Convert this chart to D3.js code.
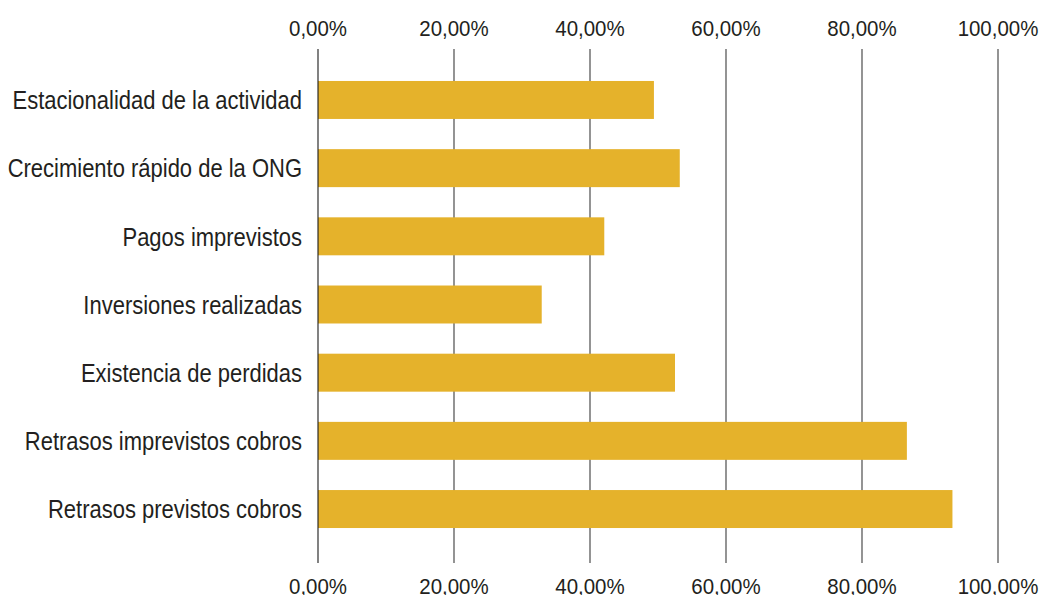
<!DOCTYPE html>
<html>
<head>
<meta charset="utf-8">
<script src="https://cdn.jsdelivr.net/npm/d3@7"></script>
<style>
  html, body { margin: 0; padding: 0; background: #fff; overflow: hidden; }
  text { font-family: "Liberation Sans Narrow", "Arial Narrow", "Liberation Sans", Arial, sans-serif; fill: #231f20; }
</style>
</head>
<body>
<svg id="chart" width="1040" height="595"></svg>
<script>
const categories = [
  "Estacionalidad de la actividad",
  "Crecimiento rápido de la ONG",
  "Pagos imprevistos",
  "Inversiones realizadas",
  "Existencia de perdidas",
  "Retrasos imprevistos cobros",
  "Retrasos previstos cobros"
];
const values = [49.4, 53.2, 42.1, 32.9, 52.5, 86.6, 93.3];
const tickValues = [0, 20, 40, 60, 80, 100];

(function () {
const svg = d3.select("#chart");
const plotLeft = 318, plotRight = 998, plotTop = 49, plotBottom = 563;
const labelSqueeze = 0.862, tickSqueeze = 0.93;

const x = d3.scaleLinear().domain([0, 100]).range([plotLeft, plotRight]);
const y = d3.scaleBand().domain(categories).range([46, 563]).paddingInner(0.443).paddingOuter(0.513);

const fmt = v => d3.format(".2f")(v).replace(".", ",") + "%";

// gridlines
svg.append("g").selectAll("line").data(tickValues.slice(1)).join("line")
  .attr("x1", d => x(d)).attr("x2", d => x(d))
  .attr("y1", plotTop).attr("y2", plotBottom)
  .attr("stroke", "#5a5a5a").attr("stroke-width", 1.3);

// bars
svg.append("g").selectAll("rect").data(categories).join("rect")
  .attr("x", x(0))
  .attr("y", d => y(d))
  .attr("width", (d, i) => x(values[i]) - x(0))
  .attr("height", y.bandwidth())
  .attr("fill", "#e5b22b");

// left axis line
svg.append("line")
  .attr("x1", x(0)).attr("x2", x(0)).attr("y1", plotTop).attr("y2", plotBottom)
  .attr("stroke", "#1a1a1a").attr("stroke-width", 1.1);

// category labels
svg.append("g").selectAll("text").data(categories).join("text")
  .attr("transform", d => `translate(${x(0) - 16},${y(d) + y.bandwidth() / 2}) scale(${labelSqueeze},1)`)
  .attr("dy", "0.36em")
  .attr("text-anchor", "end")
  .attr("font-size", 25.5)
  .text(d => d);

// top tick labels
svg.append("g").selectAll("text").data(tickValues).join("text")
  .attr("transform", d => `translate(${x(d)},36) scale(${tickSqueeze},1)`)
  .attr("text-anchor", "middle")
  .attr("font-size", 22)
  .text(d => fmt(d));

// bottom tick labels (cut at the lower edge, as in the original)
svg.append("g").selectAll("text").data(tickValues).join("text")
  .attr("transform", d => `translate(${x(d)},593.5) scale(${tickSqueeze},1)`)
  .attr("text-anchor", "middle")
  .attr("font-size", 22)
  .text(d => fmt(d));
})();
</script>
</body>
</html>
